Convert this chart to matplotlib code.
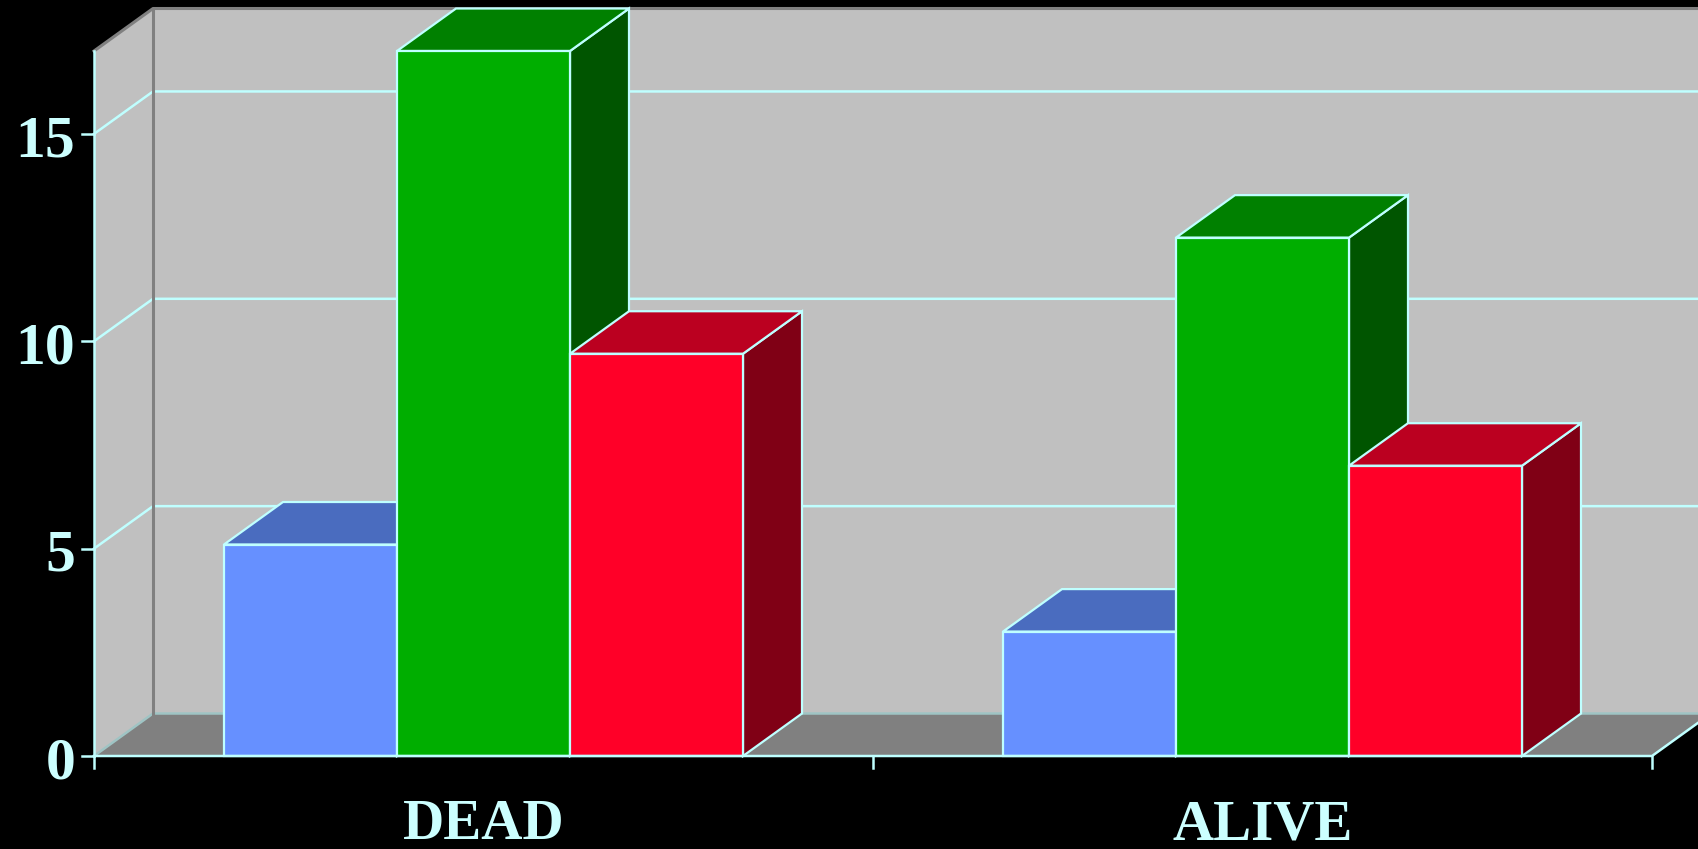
import matplotlib.pyplot as plt
from matplotlib.patches import Polygon

categories = ["DEAD", "ALIVE"]
blue_vals = [5.1, 3.0]
green_vals = [17.0, 12.5]
red_vals = [9.7, 7.0]
y_ticks = [0, 5, 10, 15]
y_max = 17

# face colours: front, top, side
blue = ("#6690FF", "#4A6CBF", "#3A55A0")
green = ("#00AE00", "#008000", "#005500")
red = ("#FF0028", "#BB0020", "#800015")
edge = "#BFFFFF"
text_col = "#CCFFFF"

# depth of the box in data units (x in categories, y in values)
DX = 59 / 779
DY = 42.5 / 41.47
bar_w = 173 / 779

fig = plt.figure(figsize=(16.99, 8.49), dpi=100)
fig.patch.set_facecolor("black")
ax = fig.add_axes([0, 0, 1, 1])
ax.set_facecolor("black")
ax.set_xlim(-94 / 779, (1699 - 94) / 779)
ax.set_ylim(-(849 - 756) / 41.47, 756 / 41.47)
ax.axis("off")

n = len(categories)

# walls and floor
back = Polygon([(DX, DY), (n + DX + 0.2, DY), (n + DX + 0.2, y_max + DY), (DX, y_max + DY)],
               closed=True, facecolor="#C0C0C0", edgecolor="none", zorder=1)
side = Polygon([(0, 0), (DX, DY), (DX, y_max + DY), (0, y_max)],
               closed=True, facecolor="#C0C0C0", edgecolor="none", zorder=1)
floor = Polygon([(0, 0), (n, 0), (n + DX, DY), (DX, DY)],
                closed=True, facecolor="#808080", edgecolor="none", zorder=1)
for p in (back, side, floor):
    ax.add_patch(p)

# gridlines across side and back walls
for v in y_ticks[1:]:
    ax.plot([0, DX, n + DX + 0.2], [v, v + DY, v + DY], color=edge, lw=1.8, zorder=2)
ax.plot([0, DX, n + DX + 0.2], [0, DY, DY], color="#9FC4C4", lw=1.8, zorder=2)

# wall outlines
ax.plot([DX, DX], [DY, y_max + DY], color="#808080", lw=2.2, zorder=2)
ax.plot([0, DX, n + DX + 0.2], [y_max, y_max + DY, y_max + DY], color="#808080", lw=2.2, zorder=2)

# bars
def draw_bar(x0, v, cols):
    front = Polygon([(x0, 0), (x0 + bar_w, 0), (x0 + bar_w, v), (x0, v)],
                    closed=True, facecolor=cols[0], edgecolor=edge, lw=1.6, zorder=3)
    top = Polygon([(x0, v), (x0 + bar_w, v), (x0 + bar_w + DX, v + DY), (x0 + DX, v + DY)],
                  closed=True, facecolor=cols[1], edgecolor=edge, lw=1.6, zorder=3)
    sd = Polygon([(x0 + bar_w, 0), (x0 + bar_w + DX, DY), (x0 + bar_w + DX, v + DY), (x0 + bar_w, v)],
                 closed=True, facecolor=cols[2], edgecolor=edge, lw=1.6, zorder=3)
    for p in (sd, top, front):
        ax.add_patch(p)

for i in range(n):
    c = i + 0.5
    draw_bar(c - 1.5 * bar_w, blue_vals[i], blue)
    draw_bar(c - 0.5 * bar_w, green_vals[i], green)
    draw_bar(c + 0.5 * bar_w, red_vals[i], red)

# front axes
ax.plot([0, 0], [0, y_max], color=edge, lw=1.8, zorder=4)
ax.plot([0, n, n + DX], [0, 0, DY], color=edge, lw=1.8, zorder=4)
tick_x = 12 / 779
tick_y = 12 / 41.47
for v in y_ticks:
    ax.plot([-tick_x, 0], [v, v], color=edge, lw=1.8, zorder=4)
    ax.text(-0.024, v - 0.2, str(v), color=text_col, fontsize=43, fontweight="bold",
            family="Liberation Serif", ha="right", va="center", zorder=5)
for k in range(n + 1):
    ax.plot([k, k], [0, -tick_y], color=edge, lw=1.8, zorder=4)
for i, name in enumerate(categories):
    ax.text(i + 0.5, -1.67, name, color=text_col, fontsize=41, fontweight="bold",
            family="Liberation Serif", ha="center", va="center", zorder=5)

fig.savefig("out.png", dpi=100, facecolor="black")
